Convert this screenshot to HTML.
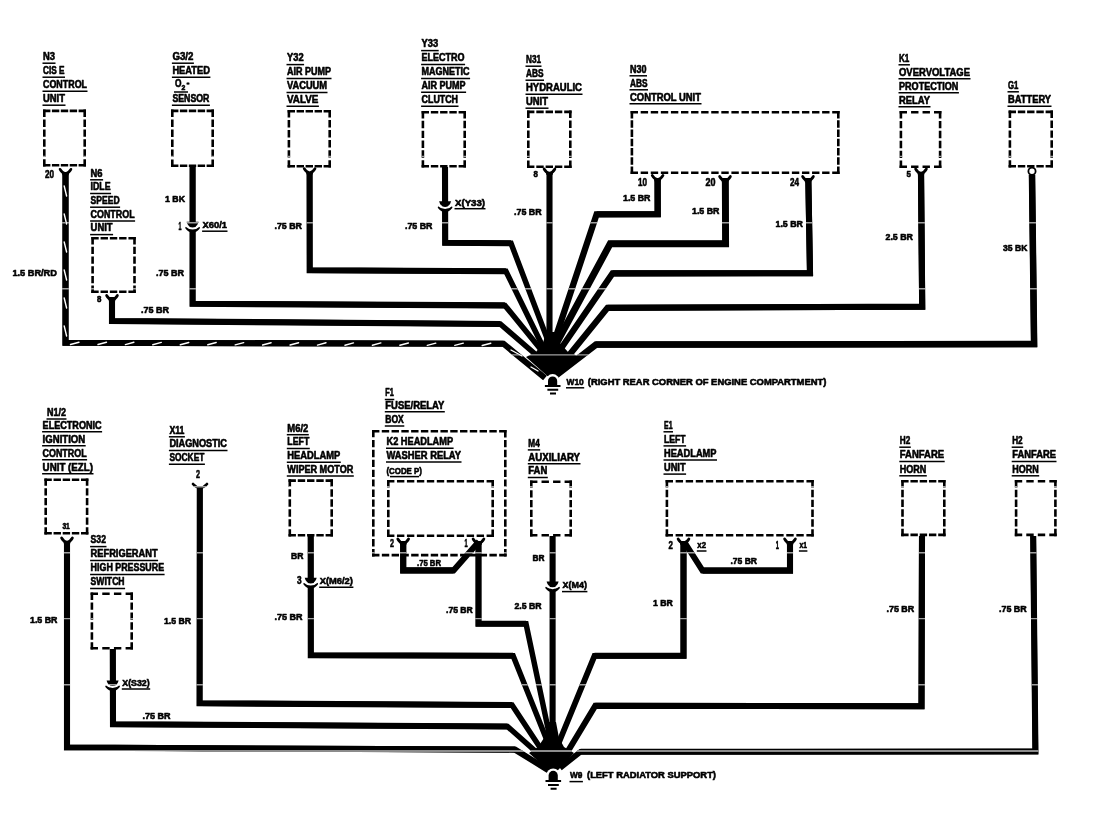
<!DOCTYPE html>
<html><head><meta charset="utf-8"><title>Ground distribution wiring diagram</title>
<style>
html,body{margin:0;padding:0;background:#fff;}
body{width:1099px;height:832px;overflow:hidden;}
svg{display:block;}
text{font-family:"Liberation Sans",sans-serif;font-weight:bold;fill:#000;stroke:#000;stroke-width:0.6;stroke-linejoin:round;}
.w{fill:none;stroke:#000;stroke-width:6.1;stroke-linejoin:miter;stroke-miterlimit:6;stroke-linecap:butt;}
.wd{fill:none;stroke:#000;stroke-linejoin:miter;stroke-miterlimit:6;}
.bx{fill:none;stroke:#000;stroke-width:2.6;}
.ul{fill:none;stroke:#000;stroke-width:1.5;}
.tm{fill:none;stroke:#000;stroke-width:2.7;stroke-linecap:round;}
.gl{fill:none;stroke:#000;stroke-width:2;}
.st{fill:none;stroke:#fff;stroke-width:1.4;stroke-linecap:round;}
.scan{stroke:#a0a0a0;stroke-width:1.4;mix-blend-mode:lighten;}
</style></head><body>
<svg width="1099" height="832" viewBox="0 0 1099 832">
<rect x="0" y="0" width="1099" height="832" fill="#fff"/>
<path class="wd" stroke-width="6.0" d="M65.5,172.0L65.5,342.7L503.5,343.8L545.0,378.0"/>
<path class="w" d="M65.5,172.0L65.5,342.7L503.5,343.8"/>
<path class="wd" stroke-width="5.5" d="M112.0,297.0L112.0,321.0L500.2,324.0L547.8,365.0"/>
<path class="w" d="M112.0,297.0L112.0,321.0L500.2,324.0"/>
<path class="wd" stroke-width="5.5" d="M192.6,167.0L192.6,303.8L504.9,305.4L551.0,362.0"/>
<path class="w" d="M192.6,167.0L192.6,303.8L504.9,305.4"/>
<path class="wd" stroke-width="5.5" d="M309.6,172.0L309.7,270.2L505.9,271.2L550.4,362.0"/>
<path class="w" d="M309.6,172.0L309.7,270.2L505.9,271.2"/>
<path class="wd" stroke-width="5.5" d="M445.0,167.0L445.2,242.7L511.0,243.3L551.5,350.0"/>
<path class="w" d="M445.0,167.0L445.2,242.7L511.0,243.3"/>
<path class="w" d="M549.5,172.0L549.5,362.0"/>
<path class="wd" stroke-width="6.3" d="M657.6,178.0L657.7,214.1L596.6,214.3L551.5,350.0"/>
<path class="w" d="M657.6,178.0L657.7,214.1L596.6,214.3"/>
<path class="wd" stroke-width="6.9" d="M725.3,178.0L725.6,243.7L610.2,243.7L551.7,352.0"/>
<path class="w" d="M725.3,178.0L725.6,243.7L610.2,243.7"/>
<path class="wd" stroke-width="6.1" d="M808.3,178.0L810.0,273.3L612.5,273.4L553.1,360.0"/>
<path class="w" d="M808.3,178.0L810.0,273.3L612.5,273.4"/>
<path class="wd" stroke-width="6.2" d="M921.0,172.0L922.2,306.7L607.5,307.8L555.5,372.0"/>
<path class="w" d="M921.0,172.0L922.2,306.7L607.5,307.8"/>
<path class="wd" stroke-width="6.5" d="M1032.0,175.0L1034.1,344.1L596.0,344.6L556.0,375.5"/>
<path class="w" d="M1032.0,175.0L1034.1,344.1L596.0,344.6"/>
<path d="M526,357L536,352L543,343L546,332H556.5L560,343L568,352L580,357L553.5,381.5Z" fill="#000"/>
<path class="st" d="M64.2,186L66.6,196"/>
<path class="st" d="M64.2,214L66.6,224"/>
<path class="st" d="M64.2,242L66.6,252"/>
<path class="st" d="M64.2,270L66.6,280"/>
<path class="st" d="M64.2,298L66.6,308"/>
<path class="st" d="M64.2,326L66.6,336"/>
<path class="st" d="M70.5,344.5L79.0,342.2"/>
<path class="st" d="M98.0,344.5L106.5,342.2"/>
<path class="st" d="M125.4,344.6L133.9,342.3"/>
<path class="st" d="M152.8,344.7L161.3,342.4"/>
<path class="st" d="M180.3,344.8L188.8,342.5"/>
<path class="st" d="M207.8,344.8L216.2,342.5"/>
<path class="st" d="M235.2,344.9L243.7,342.6"/>
<path class="st" d="M262.6,345.0L271.1,342.7"/>
<path class="st" d="M290.1,345.0L298.6,342.7"/>
<path class="st" d="M317.5,345.1L326.0,342.8"/>
<path class="st" d="M345.0,345.2L353.5,342.9"/>
<path class="st" d="M372.4,345.2L380.9,342.9"/>
<path class="st" d="M399.9,345.3L408.4,343.0"/>
<path class="st" d="M427.3,345.4L435.8,343.1"/>
<path class="st" d="M454.8,345.4L463.3,343.1"/>
<path class="st" d="M482.2,345.5L490.8,343.2"/>
<path class="st" d="M511,350L522,356"/>
<path class="st" d="M531,367L538,371"/>
<path class="bx" stroke-dasharray="7.4 1.50" d="M43.0,110.9L86.0,110.9"/>
<path class="bx" stroke-dasharray="7.4 2.52" d="M84.7,109.6L84.7,166.6"/>
<path class="bx" stroke-dasharray="7.4 1.50" d="M86.0,165.3L43.0,165.3"/>
<path class="bx" stroke-dasharray="7.4 2.52" d="M44.3,166.6L44.3,109.6"/>
<path class="bx" stroke-dasharray="7.4 1.88" d="M91.3,238.3L135.8,238.3"/>
<path class="bx" stroke-dasharray="7.4 2.32" d="M134.5,237.0L134.5,293.0"/>
<path class="bx" stroke-dasharray="7.4 1.88" d="M135.8,291.7L91.3,291.7"/>
<path class="bx" stroke-dasharray="7.4 2.32" d="M92.6,293.0L92.6,237.0"/>
<path class="bx" stroke-dasharray="7.4 1.50" d="M171.0,110.9L214.0,110.9"/>
<path class="bx" stroke-dasharray="7.4 2.60" d="M212.7,109.6L212.7,167.0"/>
<path class="bx" stroke-dasharray="7.4 1.50" d="M214.0,165.7L171.0,165.7"/>
<path class="bx" stroke-dasharray="7.4 2.60" d="M172.3,167.0L172.3,109.6"/>
<path class="bx" stroke-dasharray="7.4 1.60" d="M287.6,111.3L331.0,111.3"/>
<path class="bx" stroke-dasharray="7.4 2.64" d="M329.7,110.0L329.7,167.6"/>
<path class="bx" stroke-dasharray="7.4 1.60" d="M331.0,166.3L287.6,166.3"/>
<path class="bx" stroke-dasharray="7.4 2.64" d="M288.9,167.6L288.9,110.0"/>
<path class="bx" stroke-dasharray="7.4 1.85" d="M421.6,112.3L466.0,112.3"/>
<path class="bx" stroke-dasharray="7.4 2.44" d="M464.7,111.0L464.7,167.6"/>
<path class="bx" stroke-dasharray="7.4 1.85" d="M466.0,166.3L421.6,166.3"/>
<path class="bx" stroke-dasharray="7.4 2.44" d="M422.9,167.6L422.9,111.0"/>
<path class="bx" stroke-dasharray="7.4 1.90" d="M527.0,111.9L571.6,111.9"/>
<path class="bx" stroke-dasharray="7.4 2.60" d="M570.3,110.6L570.3,168.0"/>
<path class="bx" stroke-dasharray="7.4 1.90" d="M571.6,166.7L527.0,166.7"/>
<path class="bx" stroke-dasharray="7.4 2.60" d="M528.3,168.0L528.3,110.6"/>
<path class="bx" stroke-dasharray="7.4 2.68" d="M630.6,112.3L839.6,112.3"/>
<path class="bx" stroke-dasharray="7.4 1.87" d="M838.3,111.0L838.3,174.0"/>
<path class="bx" stroke-dasharray="7.4 2.68" d="M839.6,172.7L630.6,172.7"/>
<path class="bx" stroke-dasharray="7.4 1.87" d="M631.9,174.0L631.9,111.0"/>
<path class="bx" stroke-dasharray="7.4 4.07" d="M899.6,112.3L941.4,112.3"/>
<path class="bx" stroke-dasharray="7.4 2.52" d="M940.1,111.0L940.1,168.0"/>
<path class="bx" stroke-dasharray="7.4 4.07" d="M941.4,166.7L899.6,166.7"/>
<path class="bx" stroke-dasharray="7.4 2.52" d="M900.9,168.0L900.9,111.0"/>
<path class="bx" stroke-dasharray="7.4 1.85" d="M1008.6,111.9L1053.0,111.9"/>
<path class="bx" stroke-dasharray="7.4 2.52" d="M1051.7,110.6L1051.7,167.6"/>
<path class="bx" stroke-dasharray="7.4 1.85" d="M1053.0,166.3L1008.6,166.3"/>
<path class="bx" stroke-dasharray="7.4 2.52" d="M1009.9,167.6L1009.9,110.6"/>
<path class="tm" d="M60.1,169.3Q61.9,172.7 65.5,173.7Q69.1,172.7 70.9,169.3"/>
<path d="M61.5,171.5L65.5,172.7L69.5,171.5L68.5,175.3H62.5Z" fill="#000"/>
<path class="tm" d="M106.6,295.5Q108.4,298.9 112.0,299.9Q115.6,298.9 117.4,295.5"/>
<path d="M108.0,297.7L112.0,298.9L116.0,297.7L115.0,301.5H109.0Z" fill="#000"/>
<path class="tm" d="M304.2,168.6Q306.0,172.0 309.6,173.0Q313.2,172.0 315.0,168.6"/>
<path d="M305.6,170.8L309.6,172.0L313.6,170.8L312.6,174.6H306.6Z" fill="#000"/>
<path class="tm" d="M544.1,169.0Q545.9,172.4 549.5,173.4Q553.1,172.4 554.9,169.0"/>
<path d="M545.5,171.2L549.5,172.4L553.5,171.2L552.5,175.0H546.5Z" fill="#000"/>
<path class="tm" d="M652.2,175.4Q654.0,178.8 657.6,179.8Q661.2,178.8 663.0,175.4"/>
<path d="M653.6,177.6L657.6,178.8L661.6,177.6L660.6,181.4H654.6Z" fill="#000"/>
<path class="tm" d="M719.6,176.5Q721.4,179.9 725.0,180.9Q728.6,179.9 730.4,176.5"/>
<path d="M721.0,178.7L725.0,179.9L729.0,178.7L728.0,182.5H722.0Z" fill="#000"/>
<path class="tm" d="M802.6,176.5Q804.4,179.9 808.0,180.9Q811.6,179.9 813.4,176.5"/>
<path d="M804.0,178.7L808.0,179.9L812.0,178.7L811.0,182.5H805.0Z" fill="#000"/>
<path class="tm" d="M915.6,169.0Q917.4,172.4 921.0,173.4Q924.6,172.4 926.4,169.0"/>
<path d="M917.0,171.2L921.0,172.4L925.0,171.2L924.0,175.0H918.0Z" fill="#000"/>
<circle cx="1032" cy="171.2" r="3.6" fill="#fff" stroke="#000" stroke-width="1.8"/>
<path class="tm" style="stroke-width:2.6" d="M186.6,227.8Q192.6,234.6 198.6,227.8"/>
<path d="M185.2,225.2Q192.6,231.8 200.0,225.2" fill="none" stroke="#fff" stroke-width="1.9"/>
<path d="M186.6,221.8H198.6Q197.4,227.0 192.6,227.0Q187.8,227.0 186.6,221.8Z" fill="#000"/>
<path class="tm" style="stroke-width:2.6" d="M439.1,207.3Q445.1,214.1 451.1,207.3"/>
<path d="M437.7,204.7Q445.1,211.3 452.5,204.7" fill="none" stroke="#fff" stroke-width="1.9"/>
<path d="M439.1,201.3H451.1Q449.9,206.5 445.1,206.5Q440.3,206.5 439.1,201.3Z" fill="#000"/>
<path class="ul" d="M174,92H188"/>
<circle cx="552.6" cy="381.1" r="7" fill="#fff"/>
<path d="M548.0,386.0V381.1A4.6,4.6 0 0 1 557.2,381.1V386.0Z" fill="#000"/>
<path class="gl" d="M544.9,386.0H560.5M547.4,389.7H558.2M550.0,393.5H556.0"/>
<path class="wd" stroke-width="6.0" d="M67.0,541.0L67.0,747.6L515.0,749.6L549.0,770.6"/>
<path class="w" d="M67.0,541.0L67.0,747.6L515.0,749.6"/>
<path class="wd" stroke-width="5.5" d="M112.8,649.0L113.0,724.2L507.5,726.5L538.0,753.5"/>
<path class="w" d="M112.8,649.0L113.0,724.2L507.5,726.5"/>
<path class="wd" stroke-width="5.5" d="M199.8,487.0L199.6,703.3L512.0,705.0L545.0,755.0"/>
<path class="w" d="M199.8,487.0L199.6,703.3L512.0,705.0"/>
<path class="wd" stroke-width="5.5" d="M310.7,536.0L310.8,655.2L513.1,655.8L550.0,748.0"/>
<path class="w" d="M310.7,536.0L310.8,655.2L513.1,655.8"/>
<path class="wd" stroke-width="5.5" d="M478.5,541.0L478.5,623.7L526.0,623.7L551.5,745.0"/>
<path class="w" d="M478.5,541.0L478.5,623.7L526.0,623.7"/>
<path class="w" d="M552.6,536.0L552.6,758.0"/>
<path class="wd" stroke-width="5.8" d="M683.5,541.0L683.5,655.8L594.5,655.8L555.0,752.0"/>
<path class="w" d="M683.5,541.0L683.5,655.8L594.5,655.8"/>
<path class="wd" stroke-width="6.0" d="M922.0,536.0L921.5,706.3L595.3,705.7L559.0,766.0"/>
<path class="w" d="M922.0,536.0L921.5,706.3L595.3,705.7"/>
<path class="wd" stroke-width="5.6" d="M1033.2,536.0L1035.4,751.5L580.5,751.8L560.0,768.0"/>
<path class="w" d="M1033.2,536.0L1035.4,751.5L580.5,751.8"/>
<path class="wd" stroke-width="6.0" d="M403.2,541.0L403.2,570.4L453.5,570.4L479.0,541.5"/>
<path class="w" d="M403.2,541.0L403.2,570.4L453.5,570.4"/>
<path class="wd" stroke-width="6.0" d="M790.0,541.0L790.0,570.6L702.5,570.6L684.0,541.5"/>
<path class="w" d="M790.0,541.0L790.0,570.6L702.5,570.6"/>
<path d="M529,753L538,747L544,738L547.5,722H556L559,738L564,747L574,753L553.5,775Z" fill="#000"/>
<path class="bx" stroke-dasharray="7.4 1.75" d="M44.4,479.7L88.4,479.7"/>
<path class="bx" stroke-dasharray="7.4 2.36" d="M87.1,478.4L87.1,534.6"/>
<path class="bx" stroke-dasharray="7.4 1.75" d="M88.4,533.3L44.4,533.3"/>
<path class="bx" stroke-dasharray="7.4 2.36" d="M45.7,534.6L45.7,478.4"/>
<path class="bx" stroke-dasharray="7.4 4.27" d="M90.6,593.8L133.0,593.8"/>
<path class="bx" stroke-dasharray="7.4 2.54" d="M131.7,592.5L131.7,649.6"/>
<path class="bx" stroke-dasharray="7.4 4.27" d="M133.0,648.3L90.6,648.3"/>
<path class="bx" stroke-dasharray="7.4 2.54" d="M91.9,649.6L91.9,592.5"/>
<path class="bx" stroke-dasharray="7.4 1.87" d="M288.5,480.6L333.0,480.6"/>
<path class="bx" stroke-dasharray="7.4 2.58" d="M331.7,479.3L331.7,536.6"/>
<path class="bx" stroke-dasharray="7.4 1.87" d="M333.0,535.3L288.5,535.3"/>
<path class="bx" stroke-dasharray="7.4 2.58" d="M289.8,536.6L289.8,479.3"/>
<path class="bx" stroke-dasharray="7.4 2.38" d="M372.0,431.3L506.6,431.3"/>
<path class="bx" stroke-dasharray="7.4 2.52" d="M505.3,430.0L505.3,556.4"/>
<path class="bx" stroke-dasharray="7.4 2.38" d="M506.6,555.1L372.0,555.1"/>
<path class="bx" stroke-dasharray="7.4 2.52" d="M373.3,556.4L373.3,430.0"/>
<path class="bx" stroke-dasharray="7.4 2.56" d="M387.0,481.3L494.0,481.3"/>
<path class="bx" stroke-dasharray="7.4 2.52" d="M492.7,480.0L492.7,537.0"/>
<path class="bx" stroke-dasharray="7.4 2.56" d="M494.0,535.7L387.0,535.7"/>
<path class="bx" stroke-dasharray="7.4 2.52" d="M388.3,537.0L388.3,480.0"/>
<path class="bx" stroke-dasharray="7.4 4.13" d="M530.0,481.7L572.0,481.7"/>
<path class="bx" stroke-dasharray="7.4 2.36" d="M570.7,480.4L570.7,536.6"/>
<path class="bx" stroke-dasharray="7.4 4.13" d="M572.0,535.3L530.0,535.3"/>
<path class="bx" stroke-dasharray="7.4 2.36" d="M531.3,536.6L531.3,480.4"/>
<path class="bx" stroke-dasharray="7.4 2.66" d="M665.6,481.3L813.8,481.3"/>
<path class="bx" stroke-dasharray="7.4 2.44" d="M812.5,480.0L812.5,536.6"/>
<path class="bx" stroke-dasharray="7.4 2.66" d="M813.8,535.3L665.6,535.3"/>
<path class="bx" stroke-dasharray="7.4 2.44" d="M666.9,536.6L666.9,480.0"/>
<path class="bx" stroke-dasharray="7.4 1.85" d="M901.2,481.3L945.6,481.3"/>
<path class="bx" stroke-dasharray="7.4 2.36" d="M944.3,480.0L944.3,536.2"/>
<path class="bx" stroke-dasharray="7.4 1.85" d="M945.6,534.9L901.2,534.9"/>
<path class="bx" stroke-dasharray="7.4 2.36" d="M902.5,536.2L902.5,480.0"/>
<path class="bx" stroke-dasharray="7.4 4.10" d="M1014.8,481.3L1056.7,481.3"/>
<path class="bx" stroke-dasharray="7.4 2.36" d="M1055.4,480.0L1055.4,536.2"/>
<path class="bx" stroke-dasharray="7.4 4.10" d="M1056.7,534.9L1014.8,534.9"/>
<path class="bx" stroke-dasharray="7.4 2.36" d="M1016.1,536.2L1016.1,480.0"/>
<path class="tm" d="M61.6,538.0Q63.4,541.4 67.0,542.4Q70.6,541.4 72.4,538.0"/>
<path d="M63.0,540.2L67.0,541.4L71.0,540.2L70.0,544.0H64.0Z" fill="#000"/>
<path class="tm" d="M397.8,539.0Q399.6,542.4 403.2,543.4Q406.8,542.4 408.6,539.0"/>
<path d="M399.2,541.2L403.2,542.4L407.2,541.2L406.2,545.0H400.2Z" fill="#000"/>
<path class="tm" d="M473.1,539.0Q474.9,542.4 478.5,543.4Q482.1,542.4 483.9,539.0"/>
<path d="M474.5,541.2L478.5,542.4L482.5,541.2L481.5,545.0H475.5Z" fill="#000"/>
<path class="tm" d="M678.1,539.0Q679.9,542.4 683.5,543.4Q687.1,542.4 688.9,539.0"/>
<path d="M679.5,541.2L683.5,542.4L687.5,541.2L686.5,545.0H680.5Z" fill="#000"/>
<path class="tm" d="M784.6,539.0Q786.4,542.4 790.0,543.4Q793.6,542.4 795.4,539.0"/>
<path d="M786.0,541.2L790.0,542.4L794.0,541.2L793.0,545.0H787.0Z" fill="#000"/>
<path class="tm" d="M193,484Q196,487.6 200,487.8Q204,487.6 207,484"/>
<path class="tm" style="stroke-width:2.6" d="M106.6,686.4Q112.6,693.2 118.6,686.4"/>
<path d="M105.2,683.8Q112.6,690.4 120.0,683.8" fill="none" stroke="#fff" stroke-width="1.9"/>
<path d="M106.6,680.4H118.6Q117.4,685.6 112.6,685.6Q107.8,685.6 106.6,680.4Z" fill="#000"/>
<path class="tm" style="stroke-width:2.6" d="M304.7,583.8Q310.7,590.6 316.7,583.8"/>
<path d="M303.3,581.2Q310.7,587.8 318.1,581.2" fill="none" stroke="#fff" stroke-width="1.9"/>
<path d="M304.7,577.8H316.7Q315.5,583.0 310.7,583.0Q305.9,583.0 304.7,577.8Z" fill="#000"/>
<path class="tm" style="stroke-width:2.6" d="M546.6,587.6Q552.6,594.4 558.6,587.6"/>
<path d="M545.2,585.0Q552.6,591.6 560.0,585.0" fill="none" stroke="#fff" stroke-width="1.9"/>
<path d="M546.6,581.6H558.6Q557.4,586.8 552.6,586.8Q547.8,586.8 546.6,581.6Z" fill="#000"/>
<path class="ul" d="M390,476.6H419"/>
<circle cx="553.2" cy="775.4" r="7" fill="#fff"/>
<path d="M548.6,781.0V775.4A4.6,4.6 0 0 1 557.8,775.4V781.0Z" fill="#000"/>
<path class="gl" d="M545.5,781.0H561.1M548.0,785.0H558.8M550.6,788.7H556.6"/>
<path class="scan" d="M0,156.4H1099"/>
<path class="scan" d="M0,222.7H1099"/>
<path class="scan" d="M0,288.7H1099"/>
<path class="scan" d="M0,354.9H1099"/>
<path class="scan" d="M0,421.0H1099"/>
<path class="scan" d="M0,486.7H1099"/>
<path class="scan" d="M0,552.8H1099"/>
<path class="scan" d="M0,618.6H1099"/>
<path class="scan" d="M0,684.7H1099"/>
<path class="scan" style="stroke-width:2;stroke:#8c8c8c" d="M0,751H1099"/>
<text x="43.0" y="60.0" font-size="10.5" textLength="12.0" lengthAdjust="spacingAndGlyphs">N3</text>
<path class="ul" d="M42.5,63.2H55.5"/>
<text x="43.0" y="74.0" font-size="10.5" textLength="21.5" lengthAdjust="spacingAndGlyphs">CIS E</text>
<path class="ul" d="M42.5,77.2H65.0"/>
<text x="43.0" y="88.0" font-size="10.5" textLength="44.0" lengthAdjust="spacingAndGlyphs">CONTROL</text>
<path class="ul" d="M42.5,91.2H87.5"/>
<text x="43.0" y="102.0" font-size="10.5" textLength="22.0" lengthAdjust="spacingAndGlyphs">UNIT</text>
<path class="ul" d="M42.5,105.2H65.5"/>
<text x="90.6" y="176.6" font-size="10.5" textLength="12.0" lengthAdjust="spacingAndGlyphs">N6</text>
<path class="ul" d="M90.1,179.8H103.1"/>
<text x="90.6" y="190.3" font-size="10.5" textLength="20.0" lengthAdjust="spacingAndGlyphs">IDLE</text>
<path class="ul" d="M90.1,193.5H111.1"/>
<text x="90.6" y="204.0" font-size="10.5" textLength="29.0" lengthAdjust="spacingAndGlyphs">SPEED</text>
<path class="ul" d="M90.1,207.2H120.1"/>
<text x="90.6" y="217.7" font-size="10.5" textLength="44.0" lengthAdjust="spacingAndGlyphs">CONTROL</text>
<path class="ul" d="M90.1,220.9H135.1"/>
<text x="90.6" y="231.4" font-size="10.5" textLength="22.0" lengthAdjust="spacingAndGlyphs">UNIT</text>
<path class="ul" d="M90.1,234.6H113.1"/>
<text x="172.4" y="60.0" font-size="10.5" textLength="21.0" lengthAdjust="spacingAndGlyphs">G3/2</text>
<path class="ul" d="M171.9,63.2H193.9"/>
<text x="172.4" y="74.0" font-size="10.5" textLength="37.5" lengthAdjust="spacingAndGlyphs">HEATED</text>
<path class="ul" d="M171.9,77.2H210.4"/>
<text x="175.0" y="86.6" font-size="10.5" textLength="6.5" lengthAdjust="spacingAndGlyphs">O</text>
<text x="181.6" y="90.0" font-size="7.5" textLength="3.8" lengthAdjust="spacingAndGlyphs">2</text>
<text x="186.6" y="85.6" font-size="10" textLength="3.0" lengthAdjust="spacingAndGlyphs">-</text>
<text x="172.4" y="102.0" font-size="10.5" textLength="37.0" lengthAdjust="spacingAndGlyphs">SENSOR</text>
<path class="ul" d="M171.9,105.2H209.9"/>
<text x="287.0" y="61.4" font-size="10.5" textLength="16.6" lengthAdjust="spacingAndGlyphs">Y32</text>
<path class="ul" d="M286.5,64.6H304.1"/>
<text x="287.0" y="75.3" font-size="10.5" textLength="44.0" lengthAdjust="spacingAndGlyphs">AIR PUMP</text>
<path class="ul" d="M286.5,78.5H331.5"/>
<text x="287.0" y="89.2" font-size="10.5" textLength="40.0" lengthAdjust="spacingAndGlyphs">VACUUM</text>
<path class="ul" d="M286.5,92.4H327.5"/>
<text x="287.0" y="103.1" font-size="10.5" textLength="31.4" lengthAdjust="spacingAndGlyphs">VALVE</text>
<path class="ul" d="M286.5,106.3H318.9"/>
<text x="421.6" y="47.4" font-size="10.5" textLength="16.6" lengthAdjust="spacingAndGlyphs">Y33</text>
<path class="ul" d="M421.1,50.6H438.7"/>
<text x="421.6" y="61.3" font-size="10.5" textLength="43.0" lengthAdjust="spacingAndGlyphs">ELECTRO</text>
<path class="ul" d="M421.1,64.5H465.1"/>
<text x="421.6" y="75.2" font-size="10.5" textLength="48.0" lengthAdjust="spacingAndGlyphs">MAGNETIC</text>
<path class="ul" d="M421.1,78.4H470.1"/>
<text x="421.6" y="89.1" font-size="10.5" textLength="44.0" lengthAdjust="spacingAndGlyphs">AIR PUMP</text>
<path class="ul" d="M421.1,92.3H466.1"/>
<text x="421.6" y="103.0" font-size="10.5" textLength="36.4" lengthAdjust="spacingAndGlyphs">CLUTCH</text>
<path class="ul" d="M421.1,106.2H458.5"/>
<text x="526.0" y="63.0" font-size="10.5" textLength="15.0" lengthAdjust="spacingAndGlyphs">N31</text>
<path class="ul" d="M525.5,66.2H541.5"/>
<text x="526.0" y="77.0" font-size="10.5" textLength="17.5" lengthAdjust="spacingAndGlyphs">ABS</text>
<path class="ul" d="M525.5,80.2H544.0"/>
<text x="526.0" y="91.0" font-size="10.5" textLength="56.0" lengthAdjust="spacingAndGlyphs">HYDRAULIC</text>
<path class="ul" d="M525.5,94.2H582.5"/>
<text x="526.0" y="105.0" font-size="10.5" textLength="22.0" lengthAdjust="spacingAndGlyphs">UNIT</text>
<path class="ul" d="M525.5,108.2H548.5"/>
<text x="630.0" y="72.6" font-size="10.5" textLength="16.5" lengthAdjust="spacingAndGlyphs">N30</text>
<path class="ul" d="M629.5,75.8H647.0"/>
<text x="630.0" y="86.6" font-size="10.5" textLength="17.5" lengthAdjust="spacingAndGlyphs">ABS</text>
<path class="ul" d="M629.5,89.8H648.0"/>
<text x="630.0" y="100.6" font-size="10.5" textLength="71.0" lengthAdjust="spacingAndGlyphs">CONTROL UNIT</text>
<path class="ul" d="M629.5,103.8H701.5"/>
<text x="899.0" y="61.6" font-size="10.5" textLength="10.4" lengthAdjust="spacingAndGlyphs">K1</text>
<path class="ul" d="M898.5,64.8H909.9"/>
<text x="899.0" y="75.6" font-size="10.5" textLength="71.0" lengthAdjust="spacingAndGlyphs">OVERVOLTAGE</text>
<path class="ul" d="M898.5,78.8H970.5"/>
<text x="899.0" y="89.6" font-size="10.5" textLength="59.4" lengthAdjust="spacingAndGlyphs">PROTECTION</text>
<path class="ul" d="M898.5,92.8H958.9"/>
<text x="899.0" y="103.6" font-size="10.5" textLength="31.0" lengthAdjust="spacingAndGlyphs">RELAY</text>
<path class="ul" d="M898.5,106.8H930.5"/>
<text x="1008.0" y="88.6" font-size="10.5" textLength="10.4" lengthAdjust="spacingAndGlyphs">G1</text>
<path class="ul" d="M1007.5,91.8H1018.9"/>
<text x="1008.0" y="103.0" font-size="10.5" textLength="43.0" lengthAdjust="spacingAndGlyphs">BATTERY</text>
<path class="ul" d="M1007.5,106.2H1051.5"/>
<text x="45.0" y="178.2" font-size="11" textLength="9.0" lengthAdjust="spacingAndGlyphs">20</text>
<text x="12.4" y="276.4" font-size="9.6" textLength="44.5" lengthAdjust="spacingAndGlyphs">1.5 BR/RD</text>
<text x="97.0" y="302.4" font-size="9.6" textLength="4.4" lengthAdjust="spacingAndGlyphs">8</text>
<text x="141.0" y="312.8" font-size="9.6" textLength="28.0" lengthAdjust="spacingAndGlyphs">.75 BR</text>
<text x="165.0" y="202.0" font-size="9.6" textLength="20.0" lengthAdjust="spacingAndGlyphs">1 BK</text>
<text x="178.6" y="229.6" font-size="11" textLength="3.0" lengthAdjust="spacingAndGlyphs">1</text>
<text x="202.6" y="228.0" font-size="9.6" textLength="24.4" lengthAdjust="spacingAndGlyphs">X60/1</text>
<path class="ul" d="M202.1,231.2H227.5"/>
<text x="156.0" y="275.8" font-size="9.6" textLength="28.0" lengthAdjust="spacingAndGlyphs">.75 BR</text>
<text x="274.5" y="229.0" font-size="9.6" textLength="27.5" lengthAdjust="spacingAndGlyphs">.75 BR</text>
<text x="405.0" y="229.0" font-size="9.6" textLength="27.5" lengthAdjust="spacingAndGlyphs">.75 BR</text>
<text x="455.0" y="205.5" font-size="9.6" textLength="30.0" lengthAdjust="spacingAndGlyphs">X(Y33)</text>
<path class="ul" d="M454.5,208.7H485.5"/>
<text x="514.0" y="214.6" font-size="9.6" textLength="27.6" lengthAdjust="spacingAndGlyphs">.75 BR</text>
<text x="533.6" y="177.0" font-size="9.6" textLength="4.4" lengthAdjust="spacingAndGlyphs">8</text>
<text x="638.0" y="185.8" font-size="11" textLength="9.0" lengthAdjust="spacingAndGlyphs">10</text>
<text x="623.0" y="200.8" font-size="9.6" textLength="27.4" lengthAdjust="spacingAndGlyphs">1.5 BR</text>
<text x="705.6" y="185.8" font-size="11" textLength="10.0" lengthAdjust="spacingAndGlyphs">20</text>
<text x="692.0" y="214.4" font-size="9.6" textLength="27.4" lengthAdjust="spacingAndGlyphs">1.5 BR</text>
<text x="790.0" y="185.8" font-size="11" textLength="9.0" lengthAdjust="spacingAndGlyphs">24</text>
<text x="775.5" y="227.4" font-size="9.6" textLength="27.4" lengthAdjust="spacingAndGlyphs">1.5 BR</text>
<text x="906.4" y="177.0" font-size="9.6" textLength="4.4" lengthAdjust="spacingAndGlyphs">5</text>
<text x="885.5" y="240.0" font-size="9.6" textLength="27.4" lengthAdjust="spacingAndGlyphs">2.5 BR</text>
<text x="1003.0" y="250.6" font-size="9.6" textLength="24.4" lengthAdjust="spacingAndGlyphs">35 BK</text>
<text x="566.5" y="384.6" font-size="9.6" textLength="17.2" lengthAdjust="spacingAndGlyphs">W10</text>
<path class="ul" d="M566.0,387.8H584.2"/>
<text x="587.8" y="384.6" font-size="9.6" textLength="238.6" lengthAdjust="spacingAndGlyphs">(RIGHT REAR CORNER OF ENGINE COMPARTMENT)</text>
<text x="47.0" y="415.8" font-size="10.5" textLength="19.0" lengthAdjust="spacingAndGlyphs">N1/2</text>
<path class="ul" d="M46.5,419.0H66.5"/>
<text x="42.6" y="428.6" font-size="10.5" textLength="59.0" lengthAdjust="spacingAndGlyphs">ELECTRONIC</text>
<path class="ul" d="M42.1,431.8H102.1"/>
<text x="42.6" y="442.6" font-size="10.5" textLength="42.6" lengthAdjust="spacingAndGlyphs">IGNITION</text>
<path class="ul" d="M42.1,445.8H85.7"/>
<text x="42.6" y="456.6" font-size="10.5" textLength="44.0" lengthAdjust="spacingAndGlyphs">CONTROL</text>
<path class="ul" d="M42.1,459.8H87.1"/>
<text x="42.6" y="470.6" font-size="10.5" textLength="50.4" lengthAdjust="spacingAndGlyphs">UNIT (EZL)</text>
<path class="ul" d="M42.1,473.8H93.5"/>
<text x="90.6" y="543.4" font-size="10.5" textLength="15.4" lengthAdjust="spacingAndGlyphs">S32</text>
<path class="ul" d="M90.1,546.6H106.5"/>
<text x="90.6" y="557.4" font-size="10.5" textLength="67.0" lengthAdjust="spacingAndGlyphs">REFRIGERANT</text>
<path class="ul" d="M90.1,560.6H158.1"/>
<text x="90.6" y="571.4" font-size="10.5" textLength="73.5" lengthAdjust="spacingAndGlyphs">HIGH PRESSURE</text>
<path class="ul" d="M90.1,574.6H164.6"/>
<text x="90.6" y="585.4" font-size="10.5" textLength="34.0" lengthAdjust="spacingAndGlyphs">SWITCH</text>
<path class="ul" d="M90.1,588.6H125.1"/>
<text x="169.4" y="433.6" font-size="10.5" textLength="15.0" lengthAdjust="spacingAndGlyphs">X11</text>
<path class="ul" d="M168.9,436.8H184.9"/>
<text x="169.4" y="447.3" font-size="10.5" textLength="57.6" lengthAdjust="spacingAndGlyphs">DIAGNOSTIC</text>
<path class="ul" d="M168.9,450.5H227.5"/>
<text x="169.4" y="461.0" font-size="10.5" textLength="35.0" lengthAdjust="spacingAndGlyphs">SOCKET</text>
<path class="ul" d="M168.9,464.2H204.9"/>
<text x="287.3" y="431.5" font-size="10.5" textLength="21.0" lengthAdjust="spacingAndGlyphs">M6/2</text>
<path class="ul" d="M286.8,434.7H308.8"/>
<text x="287.3" y="445.3" font-size="10.5" textLength="22.0" lengthAdjust="spacingAndGlyphs">LEFT</text>
<path class="ul" d="M286.8,448.5H309.8"/>
<text x="287.3" y="459.1" font-size="10.5" textLength="53.0" lengthAdjust="spacingAndGlyphs">HEADLAMP</text>
<path class="ul" d="M286.8,462.3H340.8"/>
<text x="287.3" y="472.9" font-size="10.5" textLength="66.0" lengthAdjust="spacingAndGlyphs">WIPER MOTOR</text>
<path class="ul" d="M286.8,476.1H353.8"/>
<text x="385.3" y="396.3" font-size="10.5" textLength="8.5" lengthAdjust="spacingAndGlyphs">F1</text>
<path class="ul" d="M384.8,399.5H394.3"/>
<text x="385.3" y="408.6" font-size="10.5" textLength="59.0" lengthAdjust="spacingAndGlyphs">FUSE/RELAY</text>
<path class="ul" d="M384.8,411.8H444.8"/>
<text x="385.3" y="422.8" font-size="10.5" textLength="18.5" lengthAdjust="spacingAndGlyphs">BOX</text>
<path class="ul" d="M384.8,426.0H404.3"/>
<text x="386.5" y="445.0" font-size="10.5" textLength="66.6" lengthAdjust="spacingAndGlyphs">K2 HEADLAMP</text>
<path class="ul" d="M386.0,448.2H453.6"/>
<text x="386.5" y="458.8" font-size="10.5" textLength="74.5" lengthAdjust="spacingAndGlyphs">WASHER RELAY</text>
<path class="ul" d="M386.0,462.0H461.5"/>
<text x="386.5" y="473.6" font-size="9" textLength="35.3" lengthAdjust="spacingAndGlyphs">(CODE P)</text>
<text x="528.3" y="446.7" font-size="10.5" textLength="11.4" lengthAdjust="spacingAndGlyphs">M4</text>
<path class="ul" d="M527.8,449.9H540.2"/>
<text x="528.3" y="460.5" font-size="10.5" textLength="51.7" lengthAdjust="spacingAndGlyphs">AUXILIARY</text>
<path class="ul" d="M527.8,463.7H580.5"/>
<text x="528.3" y="474.3" font-size="10.5" textLength="19.0" lengthAdjust="spacingAndGlyphs">FAN</text>
<path class="ul" d="M527.8,477.5H547.8"/>
<text x="664.0" y="428.6" font-size="10.5" textLength="8.5" lengthAdjust="spacingAndGlyphs">E1</text>
<path class="ul" d="M663.5,431.8H673.0"/>
<text x="664.0" y="442.7" font-size="10.5" textLength="21.6" lengthAdjust="spacingAndGlyphs">LEFT</text>
<path class="ul" d="M663.5,445.9H686.1"/>
<text x="664.0" y="456.8" font-size="10.5" textLength="52.5" lengthAdjust="spacingAndGlyphs">HEADLAMP</text>
<path class="ul" d="M663.5,460.0H717.0"/>
<text x="664.0" y="470.9" font-size="10.5" textLength="21.6" lengthAdjust="spacingAndGlyphs">UNIT</text>
<path class="ul" d="M663.5,474.1H686.1"/>
<text x="899.8" y="444.0" font-size="10.5" textLength="10.5" lengthAdjust="spacingAndGlyphs">H2</text>
<path class="ul" d="M899.3,447.2H910.8"/>
<text x="899.8" y="458.3" font-size="10.5" textLength="44.4" lengthAdjust="spacingAndGlyphs">FANFARE</text>
<path class="ul" d="M899.3,461.5H944.7"/>
<text x="899.8" y="472.6" font-size="10.5" textLength="26.5" lengthAdjust="spacingAndGlyphs">HORN</text>
<path class="ul" d="M899.3,475.8H926.8"/>
<text x="1012.2" y="444.0" font-size="10.5" textLength="10.5" lengthAdjust="spacingAndGlyphs">H2</text>
<path class="ul" d="M1011.7,447.2H1023.2"/>
<text x="1012.2" y="458.3" font-size="10.5" textLength="43.8" lengthAdjust="spacingAndGlyphs">FANFARE</text>
<path class="ul" d="M1011.7,461.5H1056.5"/>
<text x="1012.2" y="472.6" font-size="10.5" textLength="26.5" lengthAdjust="spacingAndGlyphs">HORN</text>
<path class="ul" d="M1011.7,475.8H1039.2"/>
<text x="62.4" y="529.4" font-size="8.6" textLength="7.4" lengthAdjust="spacingAndGlyphs">31</text>
<text x="30.0" y="622.8" font-size="9.6" textLength="27.4" lengthAdjust="spacingAndGlyphs">1.5 BR</text>
<text x="196.0" y="477.8" font-size="11" textLength="4.0" lengthAdjust="spacingAndGlyphs">2</text>
<text x="164.0" y="624.4" font-size="9.6" textLength="27.0" lengthAdjust="spacingAndGlyphs">1.5 BR</text>
<text x="122.3" y="685.8" font-size="9.6" textLength="27.4" lengthAdjust="spacingAndGlyphs">X(S32)</text>
<path class="ul" d="M121.8,689.0H150.2"/>
<text x="142.5" y="718.8" font-size="9.6" textLength="28.0" lengthAdjust="spacingAndGlyphs">.75 BR</text>
<text x="291.0" y="558.6" font-size="9.6" textLength="12.4" lengthAdjust="spacingAndGlyphs">BR</text>
<text x="297.0" y="584.0" font-size="11" textLength="4.6" lengthAdjust="spacingAndGlyphs">3</text>
<text x="319.7" y="584.0" font-size="9.6" textLength="33.2" lengthAdjust="spacingAndGlyphs">X(M6/2)</text>
<path class="ul" d="M319.2,587.2H353.4"/>
<text x="274.5" y="619.6" font-size="9.6" textLength="28.0" lengthAdjust="spacingAndGlyphs">.75 BR</text>
<text x="390.0" y="546.6" font-size="11" textLength="4.0" lengthAdjust="spacingAndGlyphs">2</text>
<text x="464.5" y="546.6" font-size="11" textLength="3.2" lengthAdjust="spacingAndGlyphs">1</text>
<text x="417.0" y="566.0" font-size="9.6" textLength="24.0" lengthAdjust="spacingAndGlyphs">.75 BR</text>
<text x="446.0" y="613.2" font-size="9.6" textLength="26.8" lengthAdjust="spacingAndGlyphs">.75 BR</text>
<text x="532.4" y="561.0" font-size="9.6" textLength="12.0" lengthAdjust="spacingAndGlyphs">BR</text>
<text x="562.5" y="588.4" font-size="9.6" textLength="24.4" lengthAdjust="spacingAndGlyphs">X(M4)</text>
<path class="ul" d="M562.0,591.6H587.4"/>
<text x="514.4" y="609.4" font-size="9.6" textLength="27.2" lengthAdjust="spacingAndGlyphs">2.5 BR</text>
<text x="668.4" y="548.5" font-size="11" textLength="4.4" lengthAdjust="spacingAndGlyphs">2</text>
<text x="697.3" y="547.8" font-size="9.6" textLength="8.7" lengthAdjust="spacingAndGlyphs">x2</text>
<path class="ul" d="M696.8,551.0H706.5"/>
<text x="775.7" y="548.5" font-size="11" textLength="3.2" lengthAdjust="spacingAndGlyphs">1</text>
<text x="799.4" y="547.8" font-size="9.6" textLength="7.5" lengthAdjust="spacingAndGlyphs">x1</text>
<path class="ul" d="M798.9,551.0H807.4"/>
<text x="730.4" y="564.0" font-size="9.6" textLength="26.6" lengthAdjust="spacingAndGlyphs">.75 BR</text>
<text x="653.0" y="606.0" font-size="9.6" textLength="19.8" lengthAdjust="spacingAndGlyphs">1 BR</text>
<text x="886.5" y="612.0" font-size="9.6" textLength="27.7" lengthAdjust="spacingAndGlyphs">.75 BR</text>
<text x="999.0" y="612.0" font-size="9.6" textLength="27.7" lengthAdjust="spacingAndGlyphs">.75 BR</text>
<text x="570.0" y="778.4" font-size="9.6" textLength="12.4" lengthAdjust="spacingAndGlyphs">W9</text>
<path class="ul" d="M569.5,781.6H582.9"/>
<text x="587.0" y="778.4" font-size="9.6" textLength="129.0" lengthAdjust="spacingAndGlyphs">(LEFT RADIATOR SUPPORT)</text>
</svg></body></html>
